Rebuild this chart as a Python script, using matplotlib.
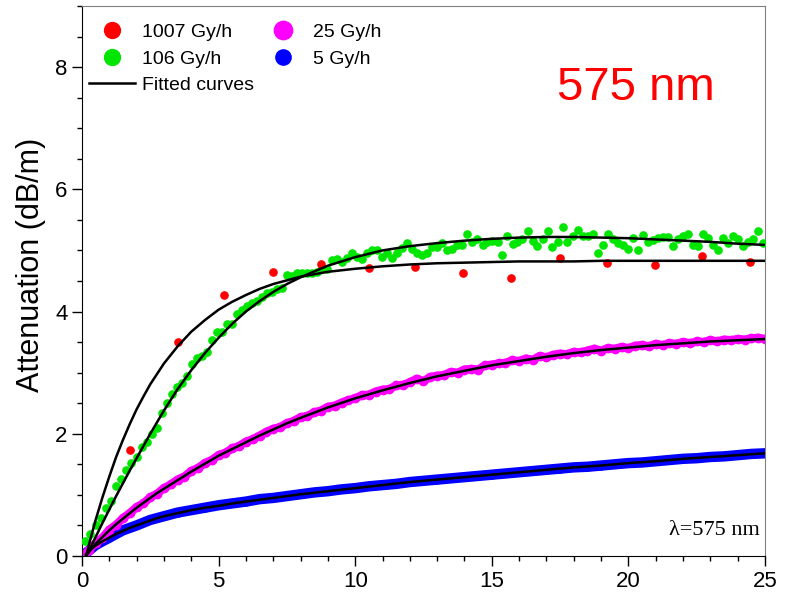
import matplotlib
matplotlib.use('Agg')
import matplotlib.pyplot as plt
from matplotlib.ticker import MultipleLocator

plt.rcParams['font.family'] = ['Liberation Sans', 'DejaVu Sans']

# 1007 Gy/h
red_t = [1.75, 3.50, 5.20, 7.00, 8.75, 10.50, 12.20, 13.95, 15.70, 17.50, 19.20, 20.97, 22.70, 24.45]
red_att = [1.73, 3.50, 4.27, 4.65, 4.78, 4.71, 4.73, 4.63, 4.55, 4.87, 4.80, 4.76, 4.91, 4.81]

# 106 Gy/h
green_t = [0.10, 0.30, 0.50, 0.69, 0.88, 1.06, 1.25, 1.44, 1.62, 1.81, 2.00, 2.18, 2.37, 2.56, 2.74,
           2.93, 3.11, 3.30, 3.48, 3.66, 3.84, 4.03, 4.21, 4.39, 4.57, 4.76, 4.94, 5.12, 5.31, 5.49,
           5.67, 5.86, 6.04, 6.22, 6.41, 6.59, 6.77, 6.96, 7.14, 7.32, 7.51, 7.69, 7.87, 8.06, 8.24,
           8.42, 8.61, 8.79, 8.97, 9.16, 9.34, 9.52, 9.71, 9.89, 10.07, 10.26, 10.44, 10.62, 10.81, 10.99,
           11.17, 11.36, 11.54, 11.72, 11.91, 12.09, 12.27, 12.46, 12.64, 12.82, 13.01, 13.19, 13.37, 13.56, 13.74,
           13.92, 14.11, 14.29, 14.47, 14.66, 14.84, 15.02, 15.21, 15.39, 15.57, 15.76, 15.94, 16.12, 16.31, 16.49,
           16.67, 16.86, 17.04, 17.22, 17.41, 17.59, 17.77, 17.96, 18.14, 18.32, 18.51, 18.69, 18.87, 19.06, 19.24,
           19.42, 19.61, 19.79, 19.97, 20.16, 20.34, 20.52, 20.71, 20.89, 21.07, 21.26, 21.44, 21.62, 21.81, 21.99,
           22.17, 22.36, 22.54, 22.72, 22.91, 23.09, 23.27, 23.46, 23.64, 23.82, 24.01, 24.19, 24.37, 24.56, 24.74,
           24.92]
green_att = [0.25, 0.36, 0.50, 0.62, 0.79, 0.90, 1.14, 1.26, 1.41, 1.52, 1.62, 1.78, 1.87, 1.99, 2.10,
             2.34, 2.51, 2.65, 2.77, 2.83, 2.95, 3.14, 3.24, 3.27, 3.34, 3.53, 3.67, 3.67, 3.80, 3.80,
             3.96, 4.03, 4.09, 4.14, 4.17, 4.24, 4.30, 4.32, 4.37, 4.38, 4.60, 4.58, 4.63, 4.63, 4.63,
             4.63, 4.65, 4.71, 4.70, 4.84, 4.86, 4.81, 4.87, 4.96, 4.90, 4.86, 4.96, 5.00, 5.00, 4.89,
             4.96, 4.88, 4.96, 5.04, 5.12, 5.02, 4.96, 4.93, 4.96, 5.06, 5.05, 5.12, 5.00, 5.02, 5.09,
             5.09, 5.27, 5.14, 5.19, 5.09, 5.14, 5.16, 5.14, 4.93, 5.24, 5.11, 5.14, 5.19, 5.32, 5.16,
             5.07, 5.19, 5.32, 5.05, 5.14, 5.38, 5.14, 5.24, 5.34, 5.24, 5.24, 5.27, 4.96, 5.09, 5.27,
             5.19, 5.12, 5.09, 5.02, 5.20, 5.00, 5.25, 5.14, 5.17, 5.20, 5.22, 5.22, 5.07, 5.19, 5.24,
             5.27, 5.09, 5.07, 5.27, 5.20, 5.09, 5.00, 5.20, 5.12, 5.24, 5.19, 5.07, 5.14, 5.19, 5.32,
             5.12]

# 25 Gy/h
magenta_t = [0.10, 0.25, 0.50, 0.75, 1.00, 1.25, 1.50, 1.75, 2.00, 2.25, 2.50, 2.75, 3.00, 3.25, 3.50,
             3.75, 4.00, 4.25, 4.50, 4.75, 5.00, 5.25, 5.50, 5.75, 6.00, 6.25, 6.50, 6.75, 7.00, 7.25,
             7.50, 7.75, 8.00, 8.25, 8.50, 8.75, 9.00, 9.25, 9.50, 9.75, 10.00, 10.25, 10.50, 10.75, 11.00,
             11.25, 11.50, 11.75, 12.00, 12.25, 12.50, 12.75, 13.00, 13.25, 13.50, 13.75, 14.00, 14.25, 14.50,
             14.75, 15.00, 15.25, 15.50, 15.75, 16.00, 16.25, 16.50, 16.75, 17.00, 17.25, 17.50, 17.75, 18.00,
             18.25, 18.50, 18.75, 19.00, 19.25, 19.50, 19.75, 20.00, 20.25, 20.50, 20.75, 21.00, 21.25, 21.50,
             21.75, 22.00, 22.25, 22.50, 22.75, 23.00, 23.25, 23.50, 23.75, 24.00, 24.25, 24.50, 24.75, 25.00]
magenta_att = [0.02, 0.10, 0.21, 0.30, 0.43, 0.51, 0.62, 0.70, 0.80, 0.86, 0.96, 1.02, 1.11, 1.17, 1.25,
               1.30, 1.39, 1.44, 1.52, 1.57, 1.65, 1.69, 1.76, 1.80, 1.87, 1.91, 1.97, 2.03, 2.08, 2.11,
               2.17, 2.21, 2.27, 2.29, 2.35, 2.38, 2.44, 2.46, 2.51, 2.55, 2.58, 2.63, 2.64, 2.69, 2.72,
               2.73, 2.79, 2.80, 2.84, 2.90, 2.86, 2.93, 2.95, 2.96, 3.01, 3.00, 3.05, 3.06, 3.05,
               3.12, 3.13, 3.15, 3.16, 3.20, 3.19, 3.23, 3.21, 3.27, 3.25, 3.29, 3.31, 3.30, 3.34,
               3.33, 3.36, 3.39, 3.36, 3.40, 3.39, 3.42, 3.40, 3.44, 3.45, 3.43, 3.47, 3.45, 3.48,
               3.47, 3.50, 3.48, 3.51, 3.50, 3.53, 3.51, 3.54, 3.53, 3.55, 3.54, 3.56, 3.57, 3.55]

# 5 Gy/h
blue_t = [0.1, 0.5, 1.0, 1.5, 2.0, 2.5, 3.0, 3.5, 4.0, 4.5, 5.0, 5.5, 6.0, 6.5, 7.0, 7.5, 8.0, 8.5,
          9.0, 9.5, 10.0, 10.5, 11.0, 11.5, 12.0, 12.5, 13.0, 13.5, 14.0, 14.5, 15.0, 15.5, 16.0, 16.5,
          17.0, 17.5, 18.0, 18.5, 19.0, 19.5, 20.0, 20.5, 21.0, 21.5, 22.0, 22.5, 23.0, 23.5, 24.0, 24.5, 25.0]
blue_att = [0.03, 0.18, 0.30, 0.42, 0.50, 0.59, 0.65, 0.71, 0.75, 0.79, 0.83, 0.86, 0.89, 0.93, 0.95, 0.98,
            1.01, 1.04, 1.06, 1.09, 1.11, 1.14, 1.16, 1.18, 1.21, 1.23, 1.25, 1.27, 1.29, 1.31, 1.33, 1.35,
            1.37, 1.39, 1.41, 1.43, 1.45, 1.46, 1.48, 1.50, 1.52, 1.53, 1.55, 1.57, 1.59, 1.60, 1.62, 1.63,
            1.65, 1.67, 1.68]

# fitted curves
fit_t = [0.15, 0.3, 0.5, 0.75, 1, 1.25, 1.5, 1.75, 2, 2.25, 2.5, 2.75, 3, 3.5, 4, 4.5, 5, 5.5,
         6, 6.5, 7, 7.5, 8, 9, 10, 11, 12, 13, 14, 15, 16, 17, 18, 19, 20, 21, 22, 23, 24, 25]
fit_red = [0.0, 0.26, 0.59, 0.96, 1.30, 1.62, 1.90, 2.16, 2.40, 2.61, 2.81, 2.98, 3.15, 3.43, 3.67,
           3.86, 4.03, 4.16, 4.27, 4.37, 4.45, 4.51, 4.57, 4.65, 4.70, 4.74, 4.77, 4.79, 4.80, 4.81,
           4.82, 4.82, 4.82, 4.83, 4.83, 4.83, 4.83, 4.83, 4.83, 4.83]
fit_green = [0.0, 0.13, 0.31, 0.54, 0.76, 0.98, 1.19, 1.40, 1.60, 1.80, 2.00, 2.19, 2.38, 2.73, 3.04,
             3.32, 3.57, 3.80, 4.00, 4.17, 4.32, 4.45, 4.56, 4.75, 4.89, 5.00, 5.07, 5.12, 5.16, 5.19,
             5.21, 5.22, 5.22, 5.21, 5.20, 5.18, 5.16, 5.14, 5.11, 5.09]
fit_magenta = [0.0, 0.09, 0.20, 0.31, 0.42, 0.52, 0.61, 0.70, 0.79, 0.87, 0.95, 1.03, 1.10, 1.24, 1.38,
               1.51, 1.64, 1.75, 1.86, 1.97, 2.07, 2.17, 2.26, 2.43, 2.58, 2.71, 2.83, 2.94, 3.03, 3.12,
               3.19, 3.26, 3.32, 3.37, 3.41, 3.45, 3.48, 3.51, 3.53, 3.55]
fit_blue = [0.02, 0.10, 0.17, 0.24, 0.30, 0.36, 0.41, 0.46, 0.50, 0.54, 0.58, 0.62, 0.65, 0.70, 0.75,
            0.79, 0.82, 0.86, 0.89, 0.92, 0.95, 0.98, 1.01, 1.06, 1.11, 1.16, 1.21, 1.25, 1.29, 1.33,
            1.37, 1.41, 1.45, 1.48, 1.52, 1.55, 1.59, 1.62, 1.65, 1.68]


fig = plt.figure(figsize=(7.89, 5.97), dpi=100)
ax = fig.add_axes([0.1039, 0.0687, 0.8657, 0.9213])

# dense data shown as a thick band
ax.plot(blue_t, blue_att, '-', color='#0000ff', lw=7.5, solid_capstyle='round', zorder=2)
h_blue, = ax.plot(blue_t, blue_att, 'o', color='#0000ff', ms=5, label='5 Gy/h', zorder=2)
ax.plot(magenta_t, magenta_att, '-', color='#ff00ff', lw=6, solid_capstyle='round', zorder=2)
h_mag, = ax.plot(magenta_t, magenta_att, 'o', color='#ff00ff', ms=6, label='25 Gy/h', zorder=2)
h_green, = ax.plot(green_t, green_att, 'o', color='#00e600', ms=5.2, label='106 Gy/h', zorder=3)
h_red, = ax.plot(red_t, red_att, 'o', color='#ff0000', ms=5.2, label='1007 Gy/h', zorder=4)

h_fit, = ax.plot(fit_t, fit_red, '-', color='black', lw=1.8, label='Fitted curves', zorder=5)
ax.plot(fit_t, fit_green, '-', color='black', lw=1.8, zorder=5)
ax.plot(fit_t, fit_magenta, '-', color='black', lw=1.8, zorder=5)
ax.plot(fit_t, fit_blue, '-', color='black', lw=1.8, zorder=5)

ax.set_xlim(0, 25)
ax.set_ylim(0, 9)
ax.xaxis.set_major_locator(MultipleLocator(5))
ax.xaxis.set_minor_locator(MultipleLocator(1))
ax.yaxis.set_major_locator(MultipleLocator(2))
ax.yaxis.set_minor_locator(MultipleLocator(0.5))
ax.tick_params(which='major', direction='out', length=7, width=1, labelsize=16)
ax.tick_params(which='minor', direction='out', length=3.5, width=1)
ax.tick_params(top=False, right=False)
for side in ['top', 'right']:
    ax.spines[side].set_color('#808080')
ax.set_ylabel('Attenuation (dB/m)', fontsize=22)
ax.yaxis.set_label_coords(-0.052, 0.53)

ax.text(0.811, 0.851, '575 nm', color='#ff0000', fontsize=34,
        ha='center', va='center', transform=ax.transAxes)
ax.text(0.993, 0.047, 'λ=575 nm', fontsize=16, family=['Liberation Serif', 'DejaVu Serif'],
        ha='right', va='center', transform=ax.transAxes)

ax.legend(handles=[h_red, h_green, h_fit, h_mag, h_blue], ncol=2, loc='upper left',
          bbox_to_anchor=(0.004, 0.975), frameon=False, fontsize=14, markerscale=2.2,
          handlelength=2.4, handletextpad=0.35, columnspacing=0.3, labelspacing=0.45,
          borderpad=0.2, borderaxespad=0.0)

fig.savefig('out.png', dpi=100)
